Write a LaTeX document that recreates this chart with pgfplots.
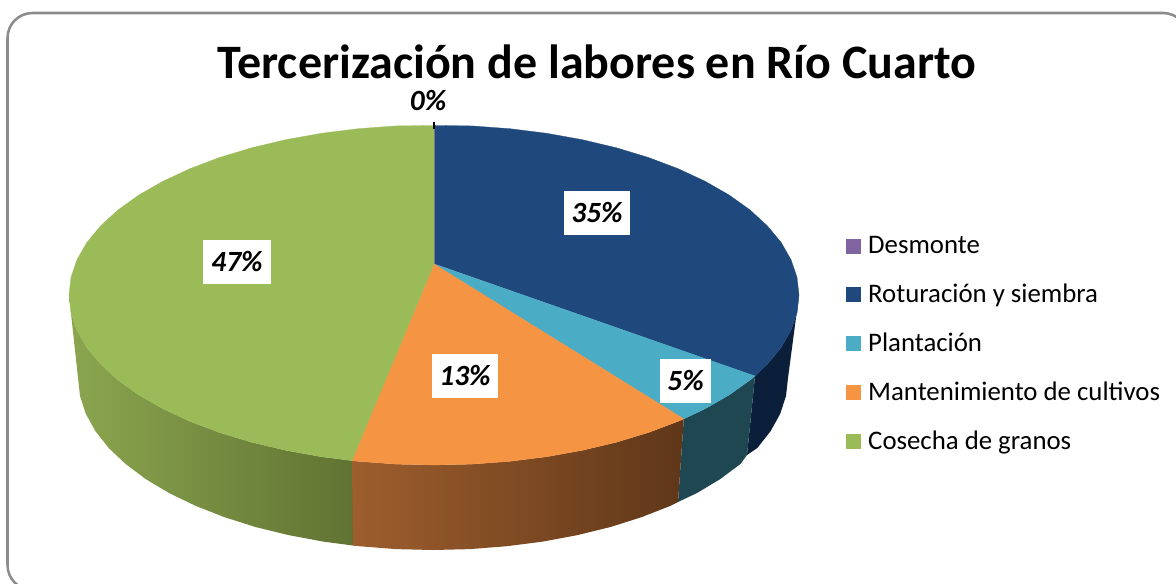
\documentclass[border=0pt]{standalone}
\usepackage{fontspec}
\setmainfont{Carlito}
\usepackage{pgfplots}
\pgfplotsset{compat=1.18}

\definecolor{cDes}{HTML}{8064A2}
\definecolor{cRot}{HTML}{1F497D}
\definecolor{cPla}{HTML}{4BACC6}
\definecolor{cMan}{HTML}{F59443}
\definecolor{cCos}{HTML}{9BBB59}
\definecolor{sRot}{HTML}{0B1F3B}
\definecolor{sPla}{HTML}{1E4752}
\definecolor{sManL}{HTML}{9E5E2D}
\definecolor{sManM}{HTML}{7A4923}
\definecolor{sManR}{HTML}{5F3719}
\definecolor{sCosL}{HTML}{8BA64F}
\definecolor{sCosR}{HTML}{607232}
\definecolor{marco}{HTML}{8C8C8C}

\begin{document}
\begin{tikzpicture}
\clip[use as bounding box] (0,0) rectangle (882pt,437.25pt);
\begin{axis}[
    at={(0,0)}, anchor=south west,
    width=882pt, height=437.25pt, scale only axis,
    xmin=0, xmax=1176, ymin=0, ymax=583, y dir=reverse,
    axis lines=none, clip=true,
    legend cell align=left,
    legend image code/.code={\fill[#1] (0pt,-5.25pt) rectangle (10.5pt,5.25pt); \path (14.25pt,0pt);},
    legend style={at={(axis cs:846,234)}, anchor=north west, draw=none, fill=none,
        font=\fontsize{20.1}{22}\selectfont, row sep=17.2pt,
        /tikz/every odd column/.append style={column sep=0pt},
        inner sep=0pt, outer sep=0pt},
]

% marco del grafico
\draw[marco, line width=1.9pt, rounded corners=18.75pt]
    (axis cs:7.5,13) rectangle (axis cs:1188,590);

% caras laterales
\addplot[forget plot, draw=none, fill=sRot] coordinates {
    (799,295)(797,312.8)(791,330.3)(781.2,347.5)(767.4,364.1)(755,376)
    (747,455)(757.3,448)(770.6,431.1)(780.2,413.8)(786,396)(788,378)
} --cycle;
\addplot[forget plot, draw=none, fill=sPla] coordinates {
    (755,376)(750.1,380)(729.3,394.9)(705.2,408.7)(683.8,418.9)
    (678,502)(696.8,493.1)(720.2,479.1)(740.4,464)(747,455)
} --cycle;
\addplot[forget plot, draw=none, left color=sCosL, right color=sCosR] coordinates {
    (355,461)(351.9,460.6)(321.2,456.7)(285.6,450.3)(251.5,442.2)(219.5,432.5)(189.8,421.3)(162.8,408.7)
    (138.7,394.9)(117.9,380)(100.6,364.1)(86.8,347.5)(77,330.3)(71,312.8)(69,295)
    (78,378)(80,396)(85.8,413.8)(95.4,431.1)(108.7,448)(125.6,464)(145.8,479.1)(169.2,493.1)
    (195.5,505.8)(224.3,517.1)(255.5,527)(288.6,535.1)(323.3,541.6)(353,545.5)(355,545.7)
} --cycle;
\addplot[forget plot, draw=none, left color=sManL, middle color=sManM, right color=sManR] coordinates {
    (683.8,418.9)(678.2,421.3)(648.5,432.5)(616.5,442.2)(582.4,450.3)(546.8,456.7)(509.9,461.3)
    (472.1,464.1)(434,465)(395.9,464.1)(358.1,461.3)(351.9,460.6)
    (353,545.5)(359.2,546.2)(395.9,549.1)(433,550)(470.1,549.1)(506.8,546.2)(542.7,541.6)
    (577.4,535.1)(610.5,527)(641.7,517.1)(670.5,505.8)(678,502)
} --cycle;

% cara superior, un sector por categoria
\addplot[draw=cDes, fill=cDes, line width=0.4pt] coordinates {
    (434,125.5)(435,125.5)(435,264)(434,264)
} --cycle;
\addlegendentry{Desmonte}
\addplot[draw=cRot, fill=cRot, line width=0.2pt] coordinates {
    (435,264)(435,125.5)(472.1,125.9)(509.9,128.7)(546.8,133.3)(582.4,139.7)(616.5,147.8)(648.5,157.5)
    (678.2,168.7)(705.2,181.3)(729.3,195.1)(750.1,210)(767.4,225.9)(781.2,242.5)(791,259.7)
    (797,277.2)(799,295)(797,312.8)(791,330.3)(781.2,347.5)(767.4,364.1)(755,376)
} --cycle;
\addlegendentry{Roturación y siembra}
\addplot[draw=cPla, fill=cPla, line width=0.2pt] coordinates {
    (434,264)(755,376)(750.1,380)(729.3,394.9)(705.2,408.7)(683.8,418.9)
} --cycle;
\addlegendentry{Plantación}
\addplot[draw=cMan, fill=cMan, line width=0.2pt] coordinates {
    (434,264)(683.8,418.9)(678.2,421.3)(648.5,432.5)(616.5,442.2)(582.4,450.3)(546.8,456.7)
    (509.9,461.3)(472.1,464.1)(434,465)(395.9,464.1)(358.1,461.3)(351.9,460.6)
} --cycle;
\addlegendentry{Mantenimiento de cultivos}
\addplot[draw=cCos, fill=cCos, line width=0.2pt] coordinates {
    (434,264)(351.9,460.6)(321.2,456.7)(285.6,450.3)(251.5,442.2)(219.5,432.5)(189.8,421.3)
    (162.8,408.7)(138.7,394.9)(117.9,380)(100.6,364.1)(86.8,347.5)(77,330.3)(71,312.8)(69,295)
    (71,277.2)(77,259.7)(86.8,242.5)(100.6,225.9)(117.9,210)(138.7,195.1)(162.8,181.3)
    (189.8,168.7)(219.5,157.5)(251.5,147.8)(285.6,139.7)(321.2,133.3)(358.1,128.7)(395.9,125.9)(434,125.5)
} --cycle;
\addlegendentry{Cosecha de granos}

% linea guia del 0%
\addplot[forget plot, black, line width=0.8pt] coordinates {(434,122)(434,129)};

% titulo y etiquetas
\node[font=\fontsize{36}{38}\selectfont\bfseries, anchor=center] at (axis cs:597,62)
    {Tercerización de labores en Río Cuarto};
\node[font=\fontsize{22}{24}\selectfont\bfseries\itshape] at (axis cs:428,101) {0\%};
\tikzset{etq/.style={fill=white, inner sep=0pt, minimum height=33pt,
    font=\fontsize{22}{24}\selectfont\bfseries\itshape}}
\node[etq, minimum width=49.5pt] at (axis cs:597,213) {35\%};
\node[etq, minimum width=51pt] at (axis cs:237,262) {47\%};
\node[etq, minimum width=49.5pt] at (axis cs:465,376) {13\%};
\node[etq, minimum width=38pt] at (axis cs:685.5,381) {5\%};
\end{axis}
\end{tikzpicture}
\end{document}
